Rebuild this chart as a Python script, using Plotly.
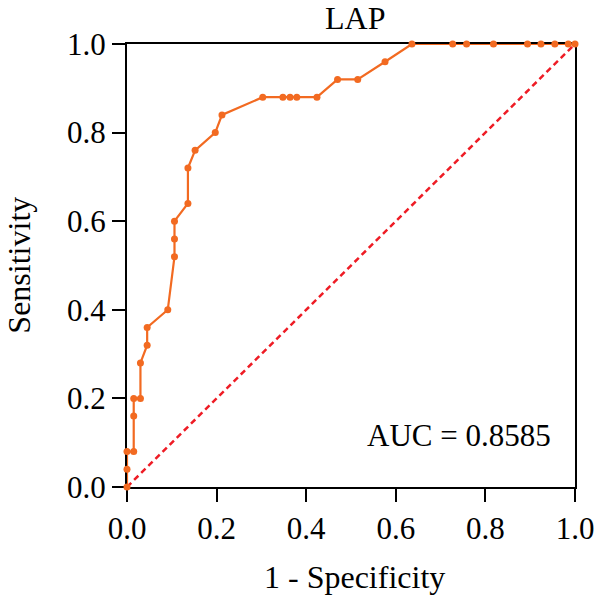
import plotly.graph_objects as go

# ROC curve points
fpr = [0, 0, 0, 0.015, 0.015, 0.015, 0.030, 0.030, 0.045, 0.045, 0.091,
       0.106, 0.106, 0.106, 0.136, 0.136, 0.152, 0.197, 0.212, 0.303, 0.348,
       0.364, 0.379, 0.424, 0.470, 0.515, 0.576, 0.636, 0.727, 0.758, 0.818,
       0.894, 0.924, 0.955, 0.985, 1.0]
tpr = [0, 0.04, 0.08, 0.08, 0.16, 0.20, 0.20, 0.28, 0.32, 0.36, 0.40,
       0.52, 0.56, 0.60, 0.64, 0.72, 0.76, 0.80, 0.84, 0.88, 0.88,
       0.88, 0.88, 0.88, 0.92, 0.92, 0.96, 1.0, 1.0, 1.0, 1.0,
       1.0, 1.0, 1.0, 1.0, 1.0]
diag = [0, 1]
tick_vals = [0.0, 0.2, 0.4, 0.6, 0.8, 1.0]
tick_text = ["0.0", "0.2", "0.4", "0.6", "0.8", "1.0"]
title_text = "LAP"
auc_text = "AUC = 0.8585"

FONT = "Liberation Serif"
FS = 31
FT = 32

fig = go.Figure()
fig.add_trace(go.Scatter(x=diag, y=diag, mode="lines",
                         line=dict(color="#EE1C25", width=2.5, dash="6px,4px"),
                         cliponaxis=False, showlegend=False))
fig.add_trace(go.Scatter(x=fpr, y=tpr, mode="lines+markers",
                         line=dict(color="#F26A21", width=2.2),
                         marker=dict(color="#F26A21", size=7),
                         cliponaxis=False, showlegend=False))

axis_common = dict(range=[0, 1], tickvals=tick_vals, ticktext=tick_text,
                   showline=True, linecolor="black", linewidth=2, mirror=True,
                   ticks="outside", ticklen=13, tickwidth=2, tickcolor="black",
                   showgrid=False, zeroline=False, layer="below traces",
                   tickfont=dict(family=FONT, size=FS, color="black"))
fig.update_xaxes(**axis_common)
fig.update_yaxes(**axis_common)

fig.update_layout(
    width=600, height=596,
    margin=dict(l=127, r=25, t=44, b=109, autoexpand=False),
    plot_bgcolor="white", paper_bgcolor="white",
    font=dict(family=FONT, size=FS, color="black"),
    annotations=[
        dict(text=title_text, xref="paper", yref="paper", x=0.508, y=1.059,
             xanchor="center", yanchor="middle", showarrow=False,
             font=dict(family=FONT, size=FT, color="black")),
        dict(text="1 - Specificity", xref="paper", yref="paper", x=0.508, y=-0.203,
             xanchor="center", yanchor="middle", showarrow=False,
             font=dict(family=FONT, size=FT, color="black")),
        dict(text="Sensitivity", xref="paper", yref="paper", x=-0.243, y=0.5,
             xanchor="center", yanchor="middle", textangle=-90, showarrow=False,
             font=dict(family=FONT, size=FT, color="black")),
        dict(text=auc_text, xref="paper", yref="paper", x=0.951, y=0.117,
             xanchor="right", yanchor="middle", showarrow=False,
             font=dict(family=FONT, size=FS, color="black")),
    ],
)

fig.write_html("out.html")
